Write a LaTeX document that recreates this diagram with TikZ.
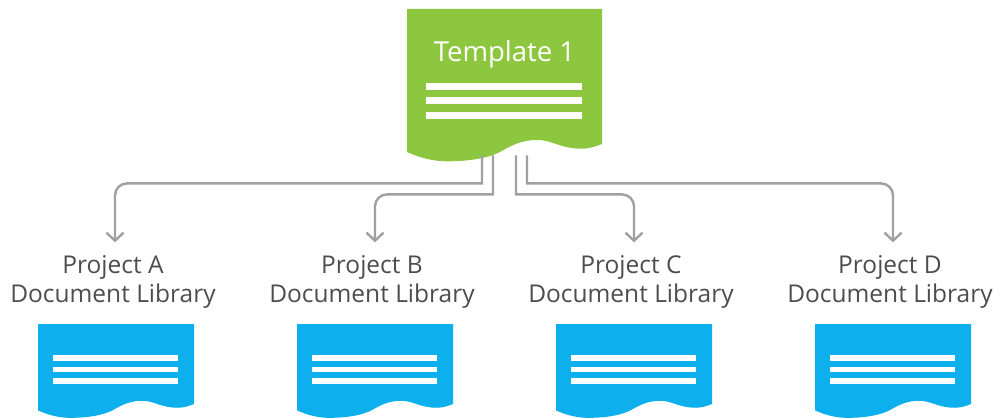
\documentclass[tikz,border=0pt]{standalone}
\usepackage{fontspec}
\setmainfont{Open Sans}
\usetikzlibrary{calc, arrows.meta}
\definecolor{tmplgreen}{HTML}{8DC63F}
\definecolor{libblue}{HTML}{0DB0EC}
\definecolor{connGray}{HTML}{A0A0A0}
\definecolor{textGray}{HTML}{4D4D4D}
\tikzset{
    pics/docsheet/.style n args={3}{code={
        \fill[#1] (0,0) -- (195,0) -- (195,#2)
            .. controls (190,#2+2) and (183,#2+4.7) .. (175,#2+4.7)
            .. controls (153,#2+4.7) and (146,#2-4) .. (130,#2-4)
            .. controls (115,#2-4) and (105,#2+1) .. (93,#2+8)
            .. controls (81,#2+14) and (63,#2+17.3) .. (40,#2+17.3)
            .. controls (27,#2+17.3) and (13,#2+14) .. (0,#2+8) -- cycle;
        \foreach \k in {0,1,2}{
            \fill[white] (19,#3+14.5*\k) rectangle (175,#3+14.5*\k+6.8);
        }
    }},
    tmpltext/.style={text=white, anchor=north, inner sep=0pt, minimum width=195pt,
        text height=52.5pt, text depth=93.5pt, font=\fontsize{27.5}{30}\selectfont},
    libtext/.style={text=textGray, align=center, inner sep=0pt, font=\fontsize{24.5}{29}\selectfont},
    conn/.style={draw=connGray, line width=2.4pt,
        -{Straight Barb[length=8pt,width=17pt,line width=2.4pt]}, shorten >=13pt},
}
\begin{document}
\begin{tikzpicture}[x=1pt,y=-1pt]
    \useasboundingbox (0,0) rectangle (1000,419);
    \pic (tmplsheet) at (407,9) {docsheet={tmplgreen}{135}{74}};
    \node[tmpltext] (tmpl) at (504.5,9) {Template 1};
    \foreach \lib/\x in {A/113,B/372,C/631,D/890}{
        \node[libtext] (lbl\lib) at (\x,282) {Project \lib\\Document Library};
        \begin{scope}
            \clip (\x-75,324) rectangle (\x+81,419);
            \pic[scale=0.8] (sheet\lib) at (\x-75,324) {docsheet={libblue}{100}{39}};
        \end{scope}
    }
    \foreach \lib/\dx/\rise/\off in {A/-22.5/28/2,B/-11.5/39/3,C/11.5/39/3,D/22.5/28/3}{
        \draw[conn] ([xshift=\dx pt]tmpl.south) -- ++(0,\rise) [rounded corners=12pt] -| ([xshift=\off pt]lbl\lib.north);
    }
\end{tikzpicture}
\end{document}
